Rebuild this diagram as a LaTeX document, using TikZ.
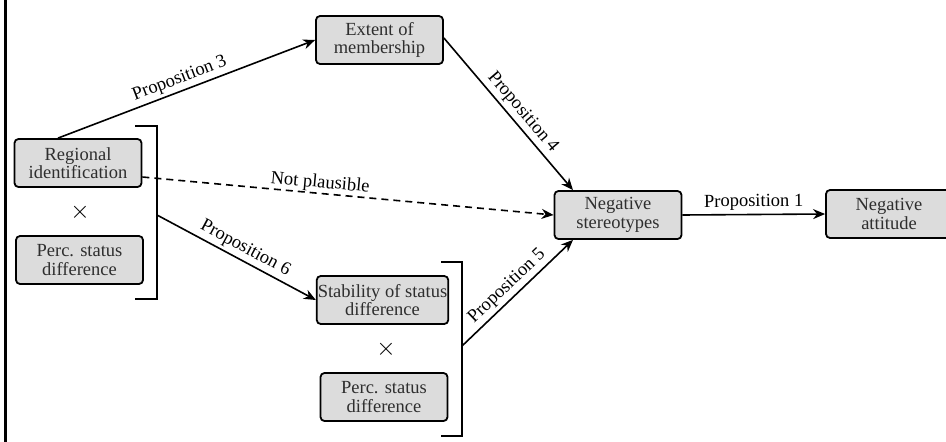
\documentclass[tikz,border=0pt]{standalone}
\usepackage{fontspec}
\setmainfont{Liberation Serif}
\usetikzlibrary{arrows.meta}
\definecolor{boxfill}{HTML}{DCDCDC}
\definecolor{boxtext}{HTML}{2E2E2E}
\tikzset{
  box/.style={draw=black, line width=1.8pt, rounded corners=4pt, fill=boxfill,
    minimum width=127pt, minimum height=48pt, align=center, inner sep=1pt,
    text=boxtext, font=\fontsize{18.5}{18.5}\selectfont},
  conn/.style={line width=1.6pt, -{Stealth[length=12pt,width=10pt]}},
  lbl/.style={font=\fontsize{18.5}{18.5}\selectfont, sloped, above, inner sep=3pt},
  brk/.style={line width=1.8pt},
  times/.style={font=\fontsize{26}{26}\selectfont}
}
\begin{document}
\begin{tikzpicture}[x=1pt,y=-1pt]
\clip (0,0) rectangle (946,442);
\fill[white] (0,0) rectangle (946,442);
\draw[line width=3pt] (5,0) -- (5,442);

\node[box] (ext) at (379.5,40) {Extent of\\membership};
\node[box] (reg) at (78,163) {Regional\\identification};
\node[times] (x1) at (80,212) {$\times$};
\node[box] (pd1) at (79.5,260) {Perc. status\\difference};
\node[box] (neg) at (618,215) {Negative\\stereotypes};
\node[box, minimum width=126pt] (att) at (889,214) {Negative\\attitude};
\node[box] (stab) at (382.5,300) {Stability of status\\difference};
\node[times] (x2) at (386,349) {$\times$};
\node[box] (pd2) at (384,397) {Perc. status\\difference};

\coordinate (b1) at (157,215);
\coordinate (b2) at (462,346);
\draw[brk] (135,126) -- (157,126) -- (157,299) -- (135,299);
\draw[brk] (441,262) -- (462,262) -- (462,436) -- (441,436);

\draw[conn] ([xshift=-20pt]reg.north) -- node[lbl, pos=0.49] {Proposition 3} (ext.west);
\draw[conn] ([yshift=2pt]ext.east) -- node[lbl, pos=0.54] {Proposition 4} ([xshift=-45pt]neg.north);
\draw[conn, dash pattern=on 7pt off 5pt] ([yshift=-14pt]reg.east) -- node[lbl, pos=0.43, inner sep=1pt] {Not plausible} (neg.west);
\draw[conn] (b1) -- node[lbl, pos=0.52] {Proposition 6} (stab.west);
\draw[conn] (b2) -- node[lbl, pos=0.48] {Proposition 5} ([xshift=-45pt]neg.south);
\draw[conn] (neg.east) -- node[lbl] {Proposition 1} (att.west);
\end{tikzpicture}
\end{document}
